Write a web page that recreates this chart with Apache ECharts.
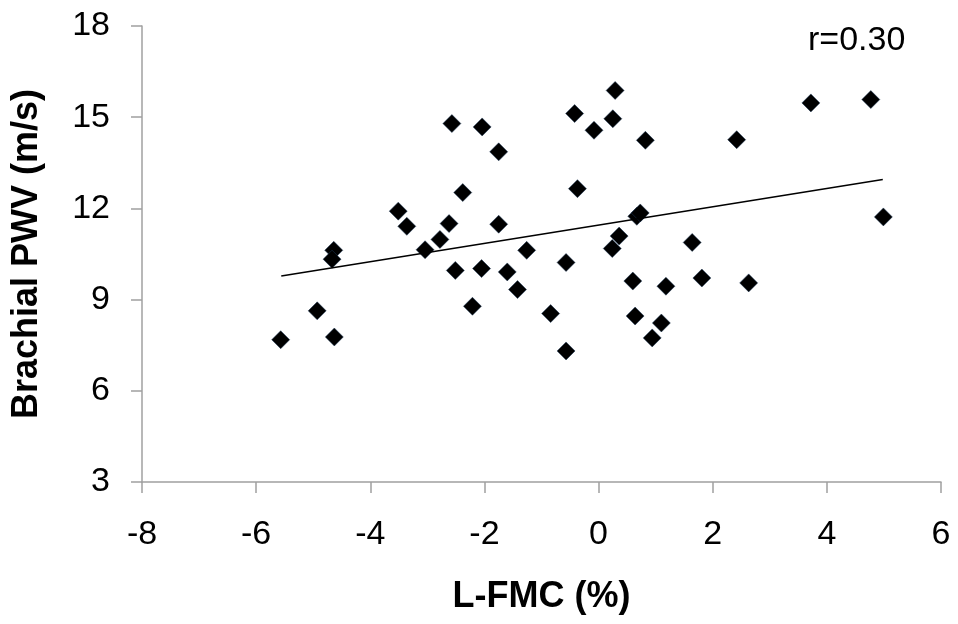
<!DOCTYPE html>
<html>
<head>
<meta charset="utf-8">
<script src="https://cdn.jsdelivr.net/npm/echarts@6/dist/echarts.min.js"></script>
<style>
  html, body { margin: 0; padding: 0; background: #fff; }
  #chart { width: 958px; height: 624px; }
</style>
</head>
<body>
<div id="chart"></div>
<script>
// L-FMC (%) vs brachial PWV (m/s)
const fmc = [
  -5.57, -4.93, -4.63, -4.64, -4.67, -3.51, -3.36, -3.04, -2.78, -2.62,
  -2.57, -2.51, -2.38, -2.21, -2.04, -2.05, -1.75, -1.75, -1.60, -1.42,
  -1.26, -0.84, -0.57, -0.57, -0.42, -0.37, -0.08, 0.25, 0.29, 0.24,
  0.36, 0.60, 0.64, 0.67, 0.73, 0.82, 0.94, 1.10, 1.18, 1.64,
  1.81, 2.42, 2.63, 3.72, 4.77, 4.99
]
const pwv = [
  7.68, 8.63, 7.77, 10.62, 10.33, 11.91, 11.41, 10.64, 10.98, 11.50,
  14.79, 9.96, 12.52, 8.78, 14.68, 10.02, 13.86, 11.48, 9.91, 9.33,
  10.62, 8.54, 10.22, 7.31, 15.12, 12.65, 14.57, 14.95, 15.88, 10.68,
  11.09, 9.61, 8.46, 11.74, 11.85, 14.24, 7.74, 8.23, 9.44, 10.88,
  9.71, 14.26, 9.55, 15.47, 15.58, 11.72
]
// trend line end points
const trendX = [-5.56, 4.98]
const trendY = [9.78, 12.95]
const rLabel = 'r=0.30'

const chart = echarts.init(document.getElementById('chart'))
const font = 'Liberation Sans, Arial, sans-serif'

const option = {
  animation: false,
  grid: { left: 142, right: 17, top: 26, bottom: 142 },
  title: {
    text: rLabel,
    left: 803,
    top: 19,
    textStyle: { fontFamily: font, fontSize: 34, fontWeight: 'normal', color: '#000' }
  },
  xAxis: {
    type: 'value',
    min: -8,
    max: 6,
    interval: 2,
    name: 'L-FMC (%)',
    nameLocation: 'middle',
    nameGap: 97,
    nameTextStyle: { fontFamily: font, fontSize: 36, fontWeight: 'bold', color: '#000' },
    axisLine: { show: true, onZero: false, lineStyle: { color: '#a0a0a0', width: 1.5 } },
    axisTick: { show: true, length: 11, lineStyle: { color: '#a0a0a0', width: 1.5 } },
    axisLabel: { margin: 36, fontFamily: font, fontSize: 34, color: '#000' },
    splitLine: { show: false }
  },
  yAxis: {
    type: 'value',
    min: 3,
    max: 18,
    interval: 3,
    name: 'Brachial PWV (m/s)',
    nameLocation: 'middle',
    nameGap: 97,
    nameTextStyle: { fontFamily: font, fontSize: 36, fontWeight: 'bold', color: '#000' },
    axisLine: { show: true, onZero: false, lineStyle: { color: '#a0a0a0', width: 1.5 } },
    axisTick: { show: true, length: 11, lineStyle: { color: '#a0a0a0', width: 1.5 } },
    axisLabel: { margin: 32, fontFamily: font, fontSize: 34, color: '#000' },
    splitLine: { show: false }
  },
  series: [
    {
      type: 'line',
      data: trendX.map((x, i) => [x, trendY[i]]),
      symbol: 'none',
      lineStyle: { color: '#000', width: 1.5 },
      z: 3
    },
    {
      type: 'scatter',
      data: fmc.map((x, i) => [x, pwv[i]]),
      symbol: 'diamond',
      symbolSize: 18,
      itemStyle: { color: '#000', opacity: 1, borderColor: '#1f3b5a', borderWidth: 0.5 },
      z: 2
    }
  ]
}

chart.setOption(option)
</script>
</body>
</html>
